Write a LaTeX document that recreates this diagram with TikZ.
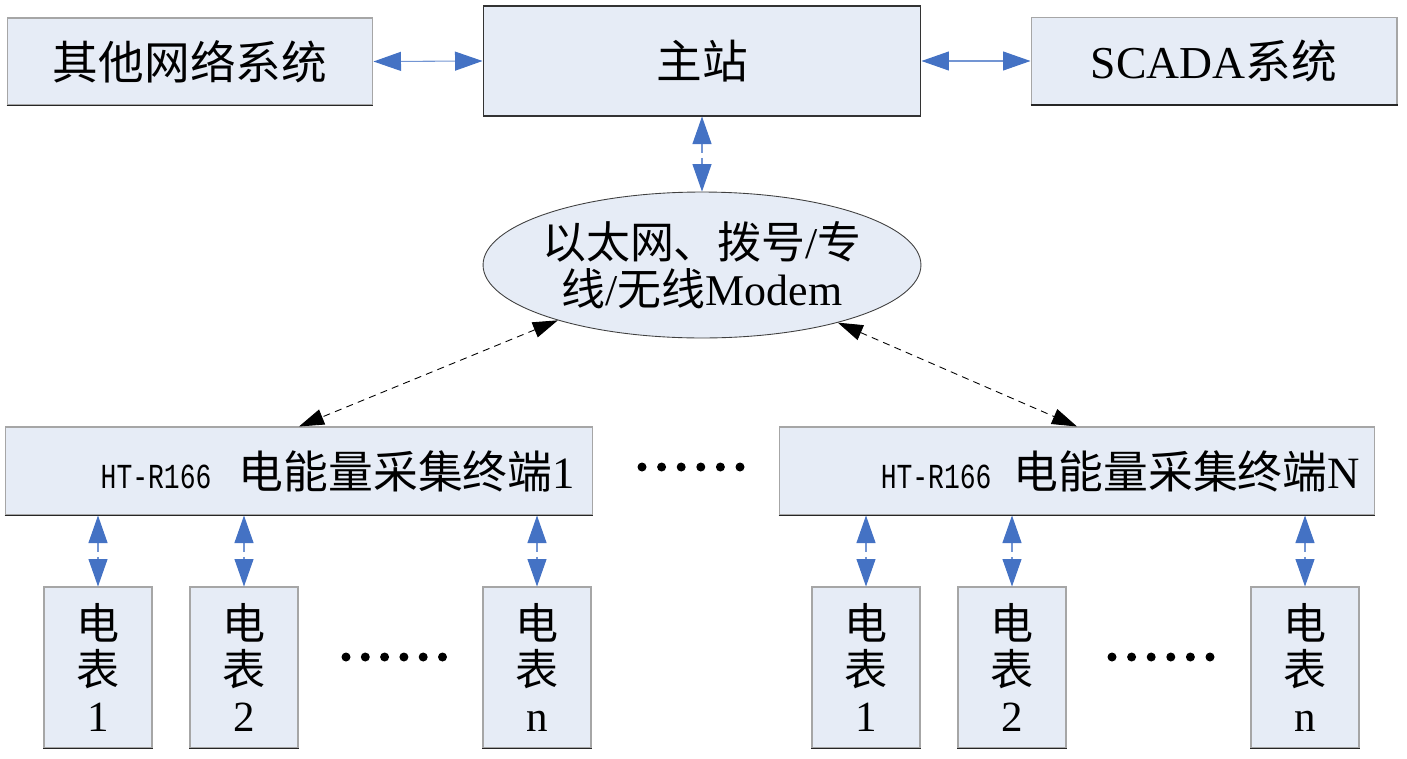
\documentclass[tikz,border=0pt]{standalone}
\usepackage{fontspec}
\setmainfont{Liberation Serif}
\newfontfamily\cjk{Noto Sans CJK SC}
\newfontfamily\htmono[FakeStretch=0.75]{Liberation Mono}
\usetikzlibrary{arrows.meta,shapes.geometric}
\definecolor{boxfill}{RGB}{230,236,246}
\definecolor{linkblue}{RGB}{68,114,196}
\tikzset{
	sysbox/.style={draw=gray!70,fill=boxfill,line width=0.6pt,inner sep=0pt,minimum width=7.32cm,minimum height=1.74cm,font=\fontsize{26}{30}\selectfont},
	netell/.style={ellipse,draw=black!75,fill=boxfill,line width=0.5pt,inner xsep=-0.14cm,inner ysep=0pt,minimum width=8.76cm,minimum height=2.92cm,align=center,font=\fontsize{25}{27}\selectfont},
	termbox/.style={draw=gray!70,fill=boxfill,line width=0.6pt,inner sep=0pt,minimum width=11.76cm,minimum height=1.76cm,align=right,font=\fontsize{25.5}{28}\selectfont},
	meterbox/.style={draw=gray!70,fill=boxfill,line width=0.6pt,inner sep=0pt,minimum width=2.16cm,minimum height=3.22cm,align=center,font=\fontsize{24.5}{26}\selectfont},
	bluelink/.style={{Triangle[length=0.55cm,width=0.38cm,color=linkblue]}-{Triangle[length=0.55cm,width=0.38cm,color=linkblue]},draw=linkblue!75,line width=0.6pt},
	bluedash/.style={bluelink,dashed,dash pattern=on 5pt off 3pt},
	blacklink/.style={{Triangle[length=0.5cm,width=0.32cm]}-{Triangle[length=0.5cm,width=0.32cm]},dashed,dash pattern=on 4pt off 3pt,line width=0.5pt},
	edgeline/.style={line width=1.1pt,black!85}
}
\begin{document}
\begin{tikzpicture}[x=0.02cm,y=-0.02cm]
	\useasboundingbox (0,0) rectangle (1407,758);
	\node [sysbox] at (190,61.5) (other) {{\cjk 其他网络系统}};
	\node [sysbox,draw=black!80,minimum width=8.76cm,minimum height=2.2cm] at (702,61) (master) {{\cjk 主站}};
	\node [sysbox] at (1214,61) (scada) {SCADA{\cjk 系统}};
	\node [netell] at (702,265) (net) {{\cjk 以太网、拨号}/{\cjk 专}\\{\cjk 线}/{\cjk 无线}Modem};
	\node [termbox,text width=11.04cm] at (299,471) (term1) {{\htmono\fontsize{20}{22}\selectfont HT-R166}\hspace{0.55cm}{\cjk 电能量采集终端}1};
	\node [termbox,minimum width=11.92cm,text width=11.32cm] at (1077,471) (termN) {{\htmono\fontsize{20}{22}\selectfont HT-R166}\hspace{0.45cm}{\cjk 电能量采集终端}N};
	\foreach \x/\i/\lab in {98/11/1,244/12/2,537/1n/n,866/N1/1,1012/N2/2,1305/Nn/n}{
		\node [meterbox] at (\x,667.5) (m\i) {{\cjk 电}\\{\cjk 表}\\\lab};
	}
	\foreach \n in {other,scada,term1,termN,m11,m12,m1n,mN1,mN2,mNn}{
		\draw [edgeline] (\n.south west) -- (\n.south east);
	}
	\draw [bluelink] (other.east) -- (master.west);
	\draw [bluelink] (master.east) -- (scada.west);
	\draw [bluedash] (master.south) -- (net.north);
	\draw [blacklink] (net.201.5) -- (term1.north);
	\draw [blacklink] (net.337.7) -- (termN.north);
	\foreach \i in {11,12,1n}{
		\draw [bluedash] (term1.south -| m\i.north) -- (m\i.north);
	}
	\foreach \i in {N1,N2,Nn}{
		\draw [bluedash] (termN.south -| m\i.north) -- (m\i.north);
	}
	% dots
	\foreach \k in {0,...,5}{
		\fill (642+\k*19.6,467) circle (0.09cm);
		\fill (346+\k*19.3,657) circle (0.09cm);
		\fill (1112+\k*19.6,657) circle (0.09cm);
	}
\end{tikzpicture}
\end{document}
